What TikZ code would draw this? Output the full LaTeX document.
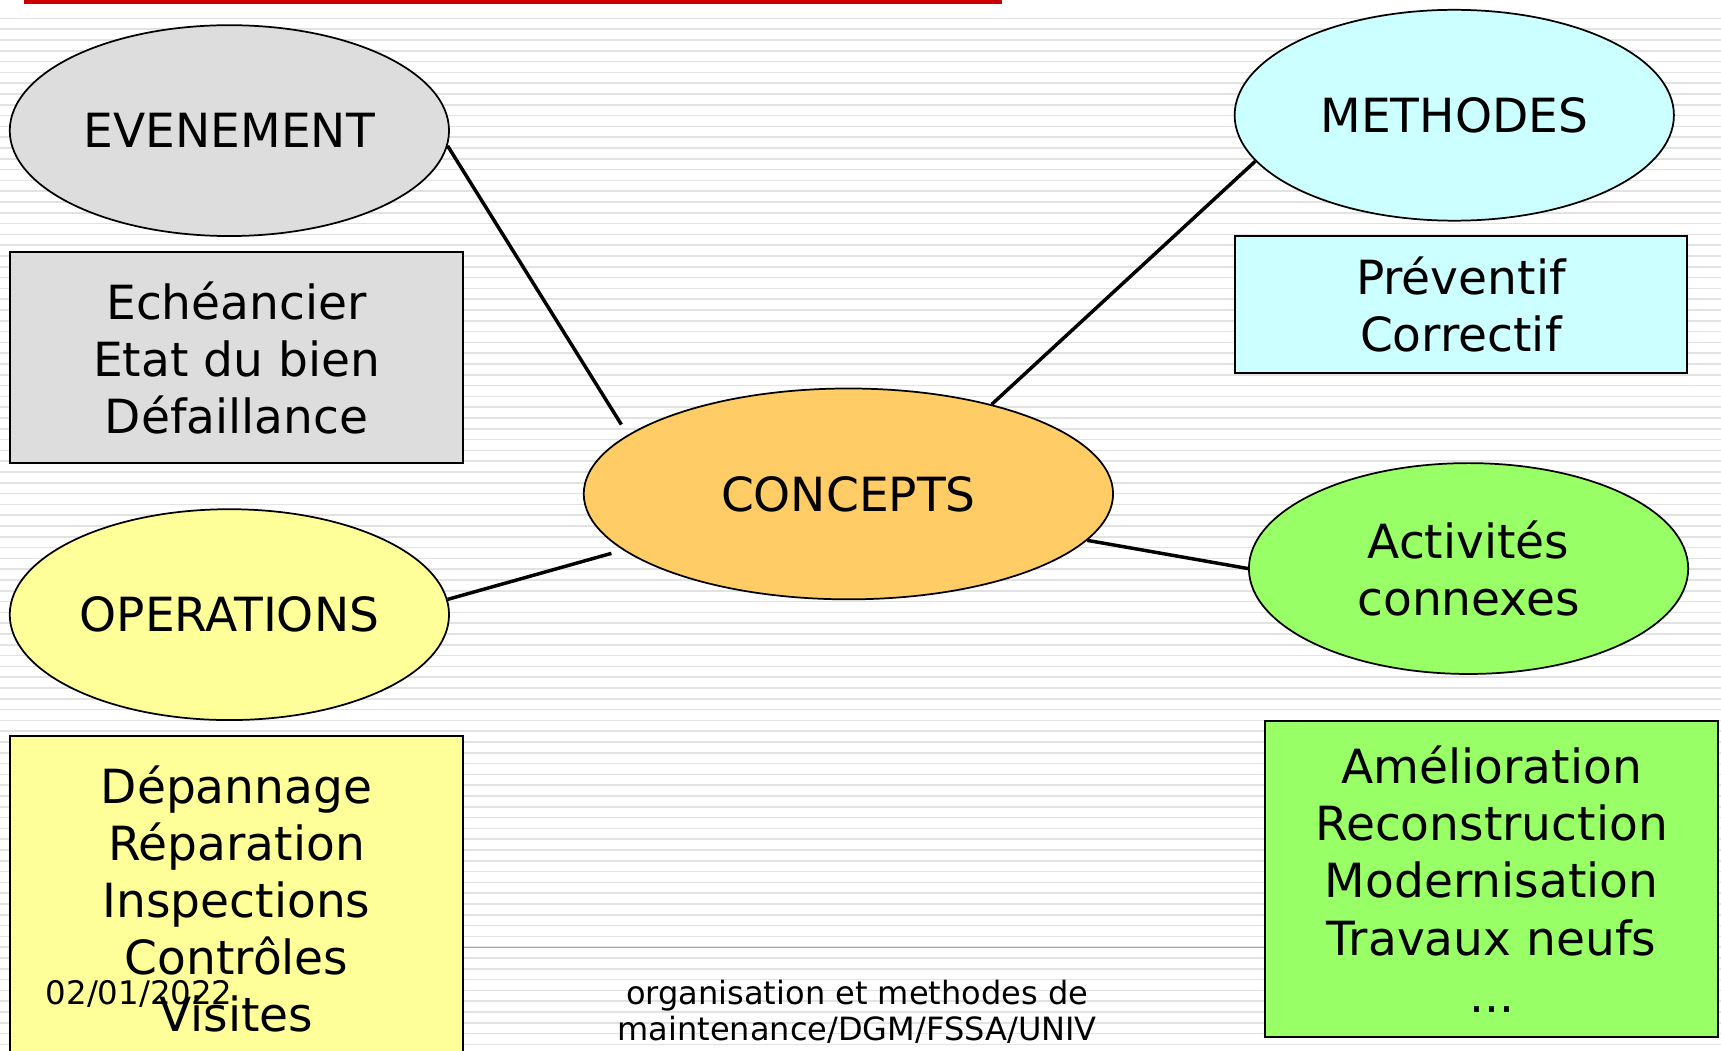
\documentclass[tikz,border=0pt]{standalone}
\usepackage{fontspec}
\setmainfont{DejaVu Sans}
\usetikzlibrary{shapes.geometric}

\definecolor{gris}{HTML}{DDDDDD}
\definecolor{jaune}{HTML}{FFFF99}
\definecolor{orange}{HTML}{FFCC66}
\definecolor{cyan}{HTML}{CCFFFF}
\definecolor{vert}{HTML}{99FF66}
\definecolor{rouge}{HTML}{CC0000}
\definecolor{rayure}{HTML}{E2E2E2}

\tikzset{
  bulle/.style={ellipse,draw,line width=0.45pt,inner sep=0pt,minimum width=4cm,minimum height=1.92cm,align=center,font=\fontsize{12.2}{14.8}\selectfont},
  cadre/.style={rectangle,draw,line width=0.55pt,inner sep=0pt,minimum width=4.13cm,align=center,font=\fontsize{12.2}{14.8}\selectfont},
  lien/.style={-,line width=0.9pt}
}

\begin{document}
\begin{tikzpicture}[x=0.01cm,y=-0.01cm]
        \clip(0,0)rectangle(1568,957);
        \fill[white](0,0)rectangle(1568,957);
        % fond raye
        \foreach \k in {0,...,96}
            \draw[rayure,line width=0.4pt](0,{16.7+9.84*\k})--(1568,{16.7+9.84*\k});
        \fill[rouge](22,0)rectangle(913,4);
        \draw[red!50,line width=0.3pt](9,863)--(1565,863);

        \node[bulle,fill=gris](eve)at(209,119){EVENEMENT};
        \node[cadre,fill=gris,minimum height=1.92cm](eveListe)at(215.5,326){Echéancier\\Etat du bien\\Défaillance};

        \node[bulle,fill=jaune](ope)at(209,560){OPERATIONS};
        \node[cadre,fill=jaune,minimum height=2.96cm](opeListe)at(215.5,819){Dépannage\\Réparation\\Inspections\\Contrôles\\Visites};

        \node[bulle,fill=orange,minimum width=4.82cm](concepts)at(773,450){CONCEPTS};

        \node[bulle,fill=cyan](meth)at(1325,105){METHODES};
        \node[cadre,fill=cyan,minimum width=4.12cm,minimum height=1.25cm](methListe)at(1331,277.5){Préventif\\Correctif};

        \node[bulle,fill=vert](act)at(1338,518){Activités\\connexes};
        \node[cadre,fill=vert,minimum width=4.12cm,minimum height=2.88cm](actListe)at(1359,801){Amélioration\\Reconstruction\\Modernisation\\Travaux neufs\\...};

        \draw[lien,shorten >=0.11cm](eve.-4.6)--(concepts.165.5);
        \draw[lien,shorten >=0.11cm](ope.4)--(concepts.194.5);
        \draw[lien](meth.193)--(concepts.32.2);
        \draw[lien](act.west)--(concepts.-11);

        \node[anchor=base west,inner sep=0pt,font=\fontsize{8.4}{9.4}\selectfont](date)at(41,915){02/01/2022};
        \node[inner sep=0pt,align=center,font=\fontsize{8.3}{9.4}\selectfont](pied)at(781,922){organisation et methodes de\\maintenance/DGM/FSSA/UNIV};
    \end{tikzpicture}
\end{document}
